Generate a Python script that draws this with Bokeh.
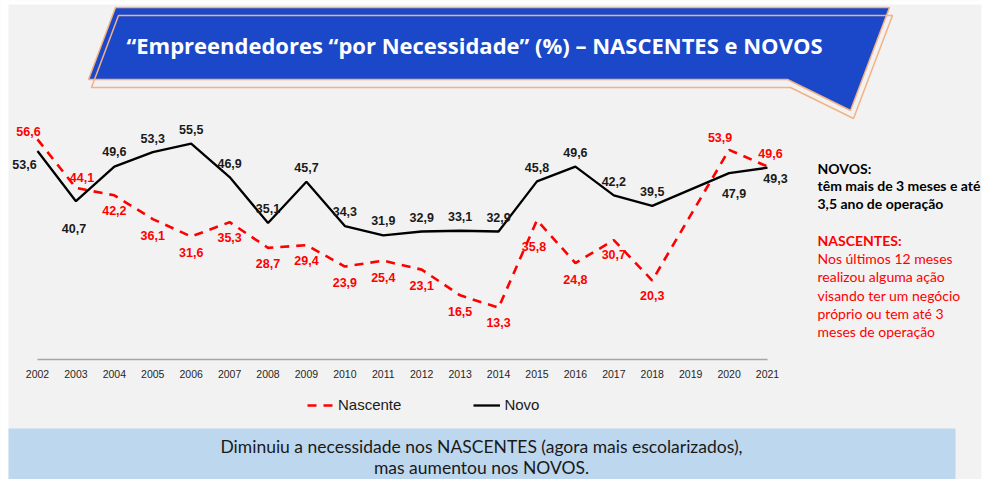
from bokeh.plotting import figure
from bokeh.models import Range1d, ColumnDataSource, Legend, LegendItem
from bokeh.core.properties import value
from bokeh.embed import file_html
from bokeh.resources import INLINE

# ---------------- data ----------------
years = [2002, 2003, 2004, 2005, 2006, 2007, 2008, 2009, 2010, 2011,
         2012, 2013, 2014, 2015, 2016, 2017, 2018, 2019, 2020, 2021]
tick_labels = [str(y) for y in years]
nascente = [56.6, 44.1, 42.2, 36.1, 31.6, 35.3, 28.7, 29.4, 23.9, 25.4,
            23.1, 16.5, 13.3, 35.8, 24.8, 30.7, 20.3, None, 53.9, 49.6]
novo = [53.6, 40.7, 49.6, 53.3, 55.5, 46.9, 35.1, 45.7, 34.3, 31.9,
        32.9, 33.1, 32.9, 45.8, 49.6, 42.2, 39.5, None, 47.9, 49.3]

# label placement (screen px; dy positive = up)
novo_lbl_dx = [-13, -2, 0, 0, 0, 0, 0, 0, 0, 0, 0, 0, 0, 0, 0, 0, 0, 0, 5, 8]
novo_lbl_dy = [-14, -27, 15, 14, 14, 14, 14, 14, 15, 15, 14, 14, 14, 14, 14, 14, 14, 0, -20, -11]
nasc_lbl_dx = [-9, 6, 0, 0, 0, 0, 0, 0, 0, 0, 0, 0, 0, -3, 0, 0, 0, 0, -9, 3]
nasc_lbl_dy = [8, 10, -15, -16, -16, -15, -16, -15, -16, -17, -16, -16, -15, -26, -16, -14, -15, 0, 12, 13]

title_text = "\u201cEmpreendedores \u201cpor Necessidade\u201d (%) \u2013 NASCENTES e NOVOS"
novos_title = "NOVOS:"
novos_lines = ["têm mais de 3 meses e até", "3,5 ano de operação"]
nasc_title = "NASCENTES:"
nasc_lines = ["Nos últimos 12 meses", "realizou alguma ação", "visando ter um negócio",
              "próprio ou tem até 3", "meses de operação"]
bottom_lines = ["Diminuiu a necessidade nos NASCENTES (agora mais escolarizados),",
                "mas aumentou nos NOVOS."]

# ---------------- geometry ----------------
W, H = 984, 479
PPX = 730 / 19.0          # px per year
PPY = 3.89                # px per percentage point
ZERO_Y = 359              # pixel row of the 0 line
x0 = years[0] - 37 / PPX
x1 = x0 + W / PPX
y_top = ZERO_Y / PPY
y_bot = -(H - ZERO_Y) / PPY


def X(xr):  # pixel x -> data x
    return x0 + xr / PPX


def Y(yr):  # pixel y -> data y
    return (ZERO_Y - yr) / PPY


p = figure(width=W, height=H, x_range=Range1d(x0, x1), y_range=Range1d(y_bot, y_top),
           x_axis_location=None, y_axis_location=None, min_border=0,
           toolbar_location=None, output_backend="svg")
p.grid.visible = False
p.outline_line_color = None
p.background_fill_color = "#f2f2f2"
p.border_fill_color = "#f2f2f2"

# white slide margins
p.quad(left=[X(-5), X(-5), X(981)], right=[X(8), X(990), X(990)],
       top=[Y(-5), Y(-5), Y(-5)], bottom=[Y(485), Y(4), Y(485)],
       fill_color="white", line_color=None)

# ---------------- banner ----------------
ban_a = [(115, 7), (889, 7), (850, 110), (787, 79), (88, 79)]
ban_b = [(118, 15), (892, 15), (853, 118), (790, 87), (91, 87)]
p.patch([X(a) for a, b in ban_a], [Y(b) for a, b in ban_a],
        fill_color="#1a48c9", line_color="#f4b183", line_width=1.5)
p.patch([X(a) for a, b in ban_b], [Y(b) for a, b in ban_b],
        fill_alpha=0, line_color="#f4b183", line_width=1.5)
p.text(x=[X(474)], y=[Y(44)], text=[title_text], text_color="white",
       text_font=value("Open Sans"), text_font_style="bold", text_font_size="22px",
       text_align="center", text_baseline="middle")

# ---------------- axis ----------------
p.segment(x0=[years[0]], y0=[0], x1=[years[-1]], y1=[0], line_color="#a6a6a6", line_width=1.5)
p.text(x=years, y=[0] * len(years), text=tick_labels, y_offset=14,
       text_font=value("Liberation Sans"), text_font_size="10.5px", text_color="#262626",
       text_align="center", text_baseline="middle")

# ---------------- series ----------------
def pts(vals):
    xs = [y for y, v in zip(years, vals) if v is not None]
    ys = [v for v in vals if v is not None]
    return xs, ys


nx, ny = pts(nascente)
vx, vy = pts(novo)
r_nasc = p.line(nx, ny, line_color="#ff0000", line_width=2.6, line_dash="9 7")
r_novo = p.line(vx, vy, line_color="#000000", line_width=2.3)


def lbl_src(vals, dx, dy):
    d = dict(x=[], y=[], t=[], dx=[], dy=[])
    for yr, v, a, b in zip(years, vals, dx, dy):
        if v is None:
            continue
        d["x"].append(yr)
        d["y"].append(v)
        d["t"].append(f"{v:.1f}".replace(".", ","))
        d["dx"].append(a)
        d["dy"].append(-b)
    return ColumnDataSource(d)


p.text(x="x", y="y", text="t", x_offset="dx", y_offset="dy",
       source=lbl_src(novo, novo_lbl_dx, novo_lbl_dy),
       text_font=value("Liberation Sans"), text_font_style="bold", text_font_size="12.5px",
       text_color="#1a1a1a", text_align="center", text_baseline="middle")
p.text(x="x", y="y", text="t", x_offset="dx", y_offset="dy",
       source=lbl_src(nascente, nasc_lbl_dx, nasc_lbl_dy),
       text_font=value("Liberation Sans"), text_font_style="bold", text_font_size="12.5px",
       text_color="#ff0000", text_align="center", text_baseline="middle")

# ---------------- legend ----------------
legend = Legend(items=[LegendItem(label="Nascente", renderers=[r_nasc]),
                       LegendItem(label="Novo", renderers=[r_novo])],
                orientation="horizontal", location=(307, 66),
                padding=0, margin=0, spacing=72, glyph_width=27, glyph_height=16,
                label_height=16, label_standoff=4,
                label_text_font="Liberation Sans", label_text_font_size="15px",
                label_text_color="#1a1a1a",
                background_fill_alpha=0, border_line_alpha=0)
p.add_layout(legend)

# ---------------- side notes ----------------
SX = 817
p.text(x=[X(SX)], y=[Y(168)], text=[novos_title], text_font=value("Lato"),
       text_font_style="bold", text_font_size="14px", text_color="#000000",
       text_baseline="middle")
p.text(x=[X(SX)] * 2, y=[Y(185), Y(203)], text=novos_lines, text_font=value("Lato"),
       text_font_style="bold", text_font_size="14px", text_color="#000000",
       text_baseline="middle")
p.text(x=[X(SX)], y=[Y(240)], text=[nasc_title], text_font=value("Lato"),
       text_font_style="bold", text_font_size="14px", text_color="#ff0000",
       text_baseline="middle")
p.text(x=[X(SX)] * 5, y=[Y(258), Y(276), Y(295), Y(313), Y(331)], text=nasc_lines,
       text_font=value("Lato"), text_font_size="14px", text_color="#ff0000",
       text_baseline="middle")

# ---------------- bottom box ----------------
p.quad(left=[X(8)], right=[X(955)], top=[Y(428)], bottom=[Y(490)],
       fill_color="#bdd7ee", line_color=None)
p.text(x=[X(481)] * 2, y=[Y(446), Y(467)], text=bottom_lines, text_font=value("Lato"),
       text_font_size="17.5px", text_color="#1a1a1a", text_align="center",
       text_baseline="middle")

open("out.html", "w").write(file_html(p, INLINE))
